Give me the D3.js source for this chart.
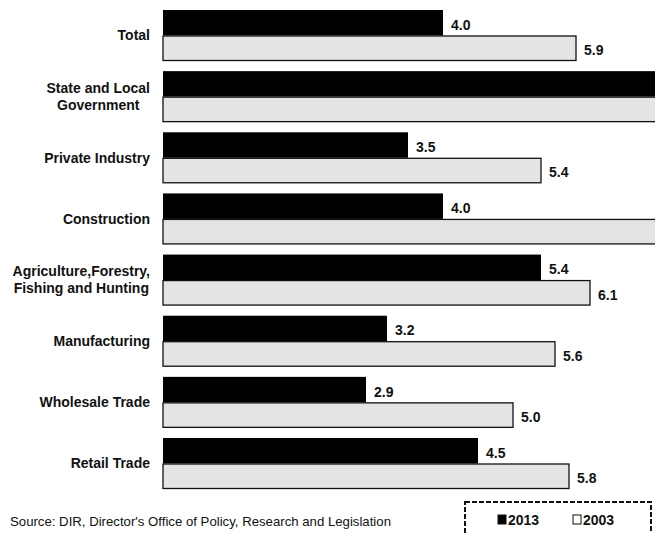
<!DOCTYPE html>
<html>
<head>
<meta charset="utf-8">
<script src="https://cdn.jsdelivr.net/npm/d3@7"></script>
<style>
  html, body { margin: 0; padding: 0; background: #fff; }
  svg { display: block; overflow: hidden; }
  text { font-family: "Liberation Sans", Arial, sans-serif; }
</style>
</head>
<body>
<svg id="chart" width="655" height="533"></svg>
<script>
// Industry categories (top to bottom); "\n" splits a label onto two lines
const categories = [
  "Total",
  "State and Local\nGovernment",
  "Private Industry",
  "Construction",
  "Agriculture,Forestry,\nFishing and Hunting",
  "Manufacturing",
  "Wholesale Trade",
  "Retail Trade"
];
const seriesNames = ["2013", "2003"];
const values2013 = [4.0, 7.4, 3.5, 4.0, 5.4, 3.2, 2.9, 4.5];
const values2003 = [5.9, 8.0, 5.4, 7.6, 6.1, 5.6, 5.0, 5.8];
const sourceNote = "Source: DIR, Director's Office of Policy, Research and Legislation";

const svg = d3.select("#chart");
const W = 655, H = 533;

const x = d3.scaleLinear().domain([0, 7]).range([163, 653]);
const y = d3.scaleBand().domain(categories).range([10, 489]).paddingInner(0.166).paddingOuter(0);
const ySub = d3.scaleBand().domain(seriesNames).range([0, y.bandwidth()]).padding(0);

const fills = { "2013": "#000", "2003": "#e4e4e4" };
const rows = categories.map((c, i) => ({ cat: c, v: { "2013": values2013[i], "2003": values2003[i] } }));

svg.append("defs").append("clipPath").attr("id", "plotClip")
  .append("rect").attr("x", 0).attr("y", 0).attr("width", W).attr("height", H);

const plot = svg.append("g").attr("clip-path", "url(#plotClip)");

const groups = plot.selectAll("g.grp").data(rows).join("g")
  .attr("class", "grp")
  .attr("transform", d => `translate(0,${y(d.cat)})`);

// Bars: 2013 solid black, 2003 light grey with black outline
groups.selectAll("rect").data(d => seriesNames.map(s => ({ s, v: d.v[s] }))).join("rect")
  .attr("x", x(0))
  .attr("y", d => ySub(d.s) + (d.s === "2003" ? 0.5 : 0))
  .attr("width", d => x(d.v) - x(0))
  .attr("height", d => ySub.bandwidth() - (d.s === "2003" ? 1 : 0))
  .attr("fill", d => fills[d.s])
  .attr("stroke", d => d.s === "2003" ? "#111" : "none")
  .attr("stroke-width", 1.3);

// Value labels to the right of each bar (bars running past the edge have none in view)
groups.selectAll("text.val")
  .data(d => seriesNames.map(s => ({ s, v: d.v[s] })).filter(e => x(e.v) + 30 < W))
  .join("text")
  .attr("class", "val")
  .attr("x", d => x(d.v) + 8)
  .attr("y", d => ySub(d.s) + ySub.bandwidth() / 2 + 2)
  .attr("dy", "0.35em")
  .attr("font-size", 14)
  .attr("font-weight", "bold")
  .attr("fill", "#111")
  .text(d => d3.format(".1f")(d.v));

// Category labels: block right-aligned at x=150, lines centred within the block
const labelRight = 150;
const lineH = 17;
rows.forEach(d => {
  const lines = d.cat.split("\n");
  const cy = y(d.cat) + y.bandwidth() / 2;
  const g = svg.append("g");
  const texts = lines.map((ln, i) => g.append("text")
    .attr("y", cy + (i - (lines.length - 1) / 2) * lineH)
    .attr("dy", "0.35em")
    .attr("font-size", 14)
    .attr("font-weight", "bold")
    .attr("fill", "#111")
    .text(ln));
  const widths = texts.map(t => t.node().getComputedTextLength());
  const maxW = d3.max(widths);
  const centre = labelRight - maxW / 2;
  texts.forEach(t => t.attr("x", centre).attr("text-anchor", "middle"));
});

// Source note
svg.append("text")
  .attr("x", 10).attr("y", 526)
  .attr("font-size", 13.2)
  .attr("fill", "#111")
  .text(sourceNote);

// Legend in a dashed box
const legend = svg.append("g");
legend.append("rect")
  .attr("x", 465).attr("y", 502).attr("width", 186).attr("height", 50)
  .attr("fill", "none").attr("stroke", "#111").attr("stroke-width", 2)
  .attr("stroke-dasharray", "5,2");
const legendX = { "2013": 498, "2003": 573 };
seriesNames.forEach(s => {
  legend.append("rect")
    .attr("x", legendX[s]).attr("y", 515).attr("width", 8).attr("height", 9)
    .attr("fill", s === "2013" ? "#000" : "#fff")
    .attr("stroke", "#111").attr("stroke-width", 1);
  legend.append("text")
    .attr("x", legendX[s] + 10).attr("y", 525)
    .attr("font-size", 14).attr("font-weight", "bold").attr("fill", "#111")
    .text(s);
});
</script>
</body>
</html>
